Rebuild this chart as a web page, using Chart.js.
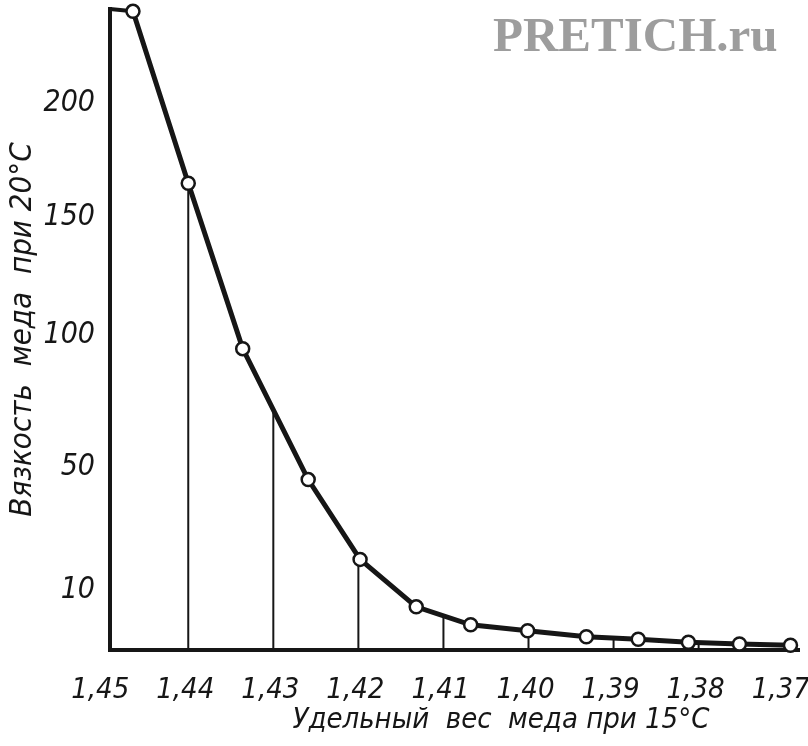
<!DOCTYPE html>
<html>
<head>
<meta charset="utf-8">
<script src="https://cdn.jsdelivr.net/npm/chart.js@4.4.0/dist/chart.umd.min.js"></script>
<style>
  html, body { margin: 0; background: #fff; }
  canvas { display: block; }
</style>
</head>
<body>
<canvas id="honeyChart" width="808" height="746"></canvas>
<script>
const DENSITY = [1.4465, 1.4400, 1.4336, 1.4259, 1.4198, 1.4132, 1.4068, 1.4001, 1.3932, 1.3871, 1.3812, 1.3752, 1.3692];
const VISCOSITY = [239, 165, 95, 46, 20, 7.2, 4.2, 3.2, 2.2, 1.8, 1.3, 1.0, 0.8];
const X_TICKS = [1.45, 1.44, 1.43, 1.42, 1.41, 1.40, 1.39, 1.38, 1.37];
const Y_TICKS = [10, 50, 100, 150, 200];
const X_TITLE = "Удельный  вес  меда при 15°C";
const Y_TITLE = "Вязкость  меда  при 20°C";
const WATERMARK = "PRETICH.ru";

const INK = "#161616";
const FONT = "'DejaVu Sans Condensed', 'DejaVu Sans', sans-serif";

// the printed value axis is not evenly spaced: [value, share of axis height]
const Y_STOPS = [[0, 0], [10, 0.0935], [50, 0.285], [100, 0.4907], [150, 0.6745], [200, 0.8536], [240, 1]];

function toShare(v) {
  for (let i = 1; i < Y_STOPS.length; i++) {
    const [v0, s0] = Y_STOPS[i - 1];
    const [v1, s1] = Y_STOPS[i];
    if (v <= v1 || i === Y_STOPS.length - 1) return s0 + (v - v0) / (v1 - v0) * (s1 - s0);
  }
  return 0;
}

function fromShare(s) {
  for (let i = 1; i < Y_STOPS.length; i++) {
    const [v0, s0] = Y_STOPS[i - 1];
    const [v1, s1] = Y_STOPS[i];
    if (s <= s1 || i === Y_STOPS.length - 1) return v0 + (s - s0) / (s1 - s0) * (v1 - v0);
  }
  return 0;
}

class StretchedScale extends Chart.LinearScale {
  getPixelForValue(value) {
    if (value === null || value === undefined) return NaN;
    return this.getPixelForDecimal(toShare(value));
  }
  getValueForPixel(pixel) {
    return fromShare(this.getDecimalForPixel(pixel));
  }
}
StretchedScale.id = "stretched";
StretchedScale.defaults = Chart.LinearScale.defaults;
Chart.register(StretchedScale);

const inkPlugin = {
  id: "ink",
  beforeDatasetsDraw(chart) {
    const { ctx, chartArea, scales: { x } } = chart;
    const pts = chart.getDatasetMeta(0).data;
    ctx.save();
    ctx.strokeStyle = INK;
    ctx.lineWidth = 2;
    // drop lines from the curve down to the axis at each tick
    X_TICKS.slice(1, -1).forEach((v) => {
      const px = x.getPixelForValue(v);
      for (let i = 0; i < pts.length - 1; i++) {
        const a = pts[i], b = pts[i + 1];
        if (px >= a.x && px <= b.x) {
          const py = a.y + (px - a.x) / (b.x - a.x) * (b.y - a.y);
          ctx.beginPath();
          ctx.moveTo(px, chartArea.bottom);
          ctx.lineTo(px, py);
          ctx.stroke();
          break;
        }
      }
    });
    // short run from the top of the axis to the first point
    ctx.lineWidth = 4;
    ctx.beginPath();
    ctx.moveTo(chartArea.left, chartArea.top);
    ctx.lineTo(pts[0].x, pts[0].y);
    ctx.stroke();
    ctx.restore();
  },
  afterDraw(chart) {
    const { ctx } = chart;
    ctx.save();
    ctx.fillStyle = INK;
    ctx.font = `italic 29px ${FONT}`;
    ctx.textAlign = "center";
    ctx.textBaseline = "middle";
    ctx.fillText(X_TITLE, 501, 720);
    ctx.font = "bold 49px 'Liberation Serif', serif";
    ctx.fillStyle = "#9d9d9d";
    ctx.textAlign = "left";
    ctx.textBaseline = "alphabetic";
    ctx.fillText(WATERMARK, 493, 51);
    ctx.restore();
  },
};

new Chart(document.getElementById("honeyChart"), {
  type: "line",
  data: {
    datasets: [{
      data: DENSITY.map((x, i) => ({ x, y: VISCOSITY[i] })),
      borderColor: INK,
      borderWidth: 5,
      tension: 0,
      pointRadius: 6.5,
      pointBorderWidth: 2.5,
      pointBackgroundColor: "#fff",
      pointBorderColor: INK,
      clip: false,
    }],
  },
  options: {
    responsive: false,
    animation: false,
    layout: { padding: { top: 8, right: 8, left: 0, bottom: 0 } },
    plugins: { legend: { display: false }, tooltip: { enabled: false } },
    scales: {
      x: {
        type: "linear",
        reverse: true,
        min: 1.3682,
        max: 1.4492,
        grid: { display: false },
        border: { display: true, width: 4, color: INK },
        afterBuildTicks: (scale) => { scale.ticks = X_TICKS.map((value) => ({ value })); },
        afterFit: (scale) => { scale.height = 96; scale.paddingLeft = 0; scale.paddingRight = 0; },
        ticks: {
          autoSkip: false,
          maxRotation: 0,
          padding: 15,
          labelOffset: -3,
          color: INK,
          font: { family: FONT, size: 29, style: "italic" },
          callback: (v) => Number(v).toFixed(2).replace(".", ","),
        },
      },
      y: {
        type: "stretched",
        min: 0,
        max: 240,
        grid: { display: false },
        border: { display: true, width: 4, color: INK },
        afterBuildTicks: (scale) => { scale.ticks = Y_TICKS.map((value) => ({ value })); },
        afterFit: (scale) => { scale.width = 110; scale.paddingTop = 0; scale.paddingBottom = 0; },
        ticks: {
          padding: 7,
          color: INK,
          font: { family: FONT, size: 30, style: "italic" },
          callback: (v) => String(v),
        },
        title: {
          display: true,
          text: Y_TITLE,
          color: INK,
          padding: { top: 4, bottom: 4 },
          font: { family: FONT, size: 31, style: "italic" },
        },
      },
    },
  },
  plugins: [inkPlugin],
});
</script>
</body>
</html>
